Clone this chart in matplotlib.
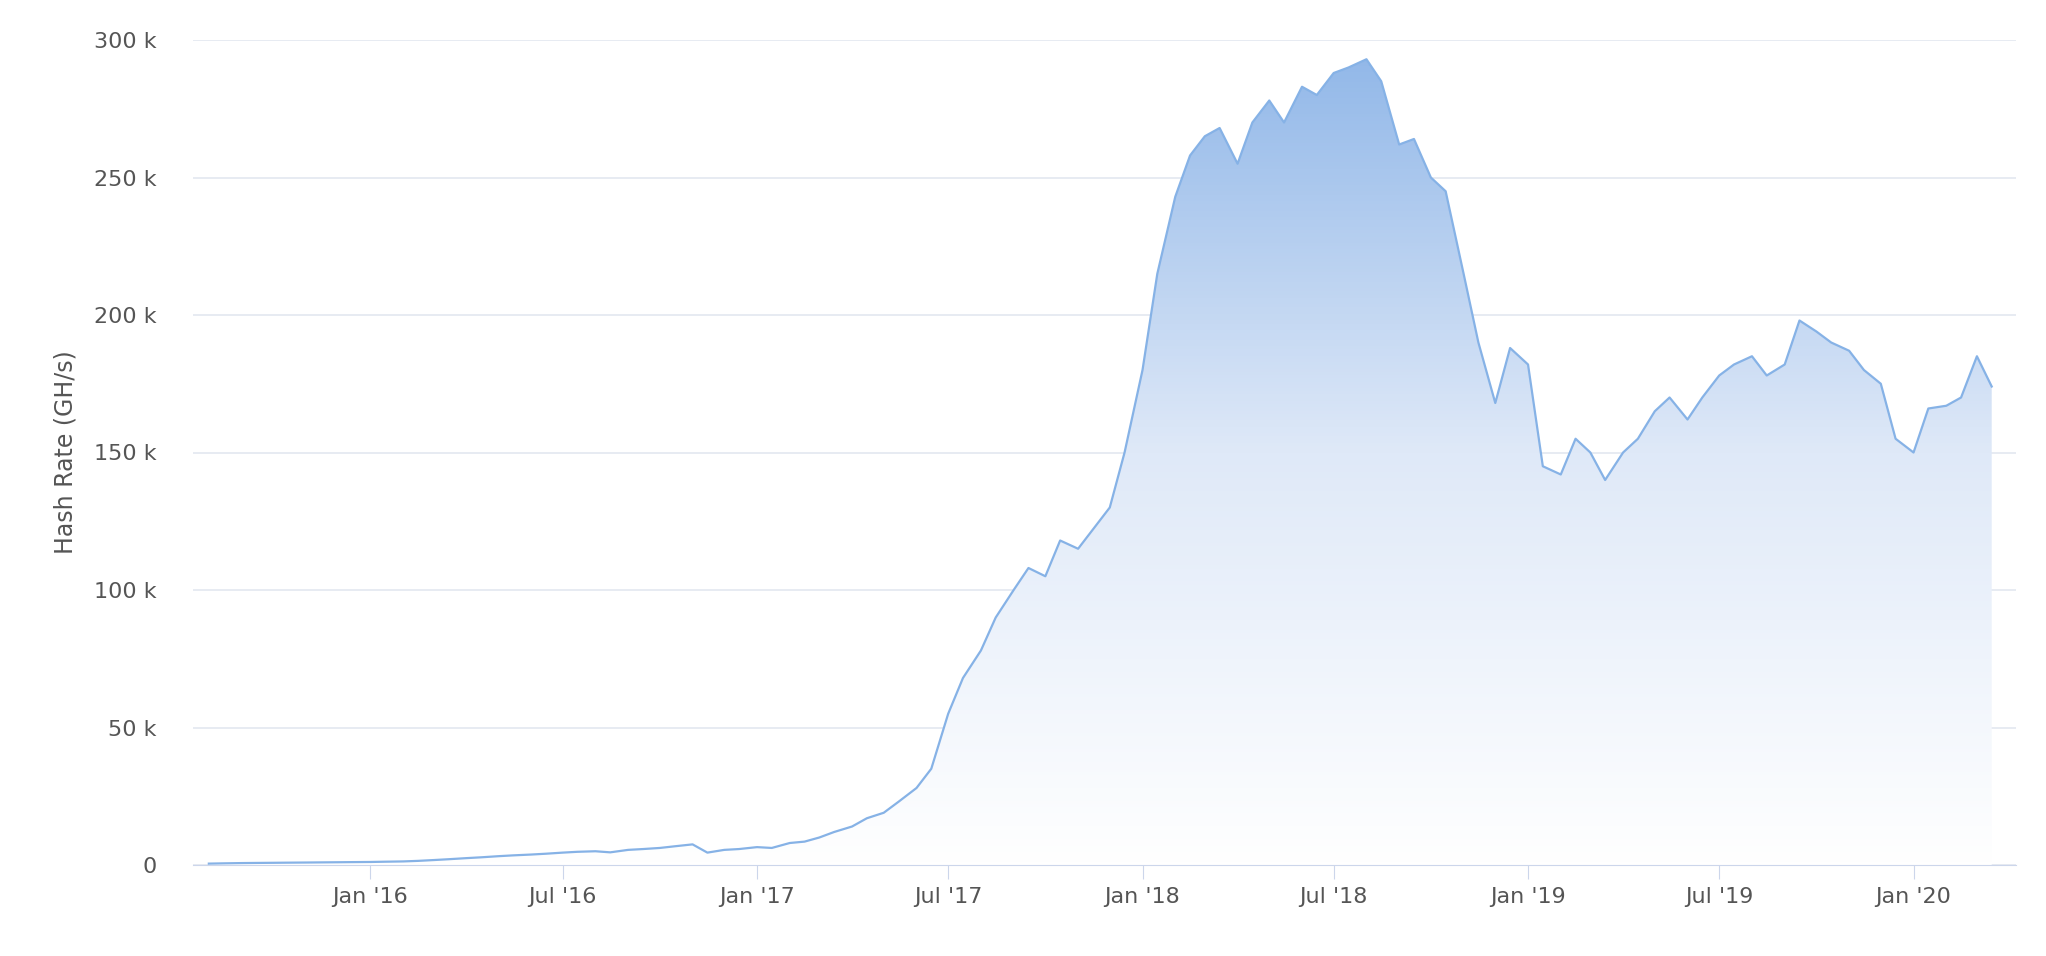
import matplotlib
matplotlib.use("Agg")
import matplotlib.pyplot as plt
import matplotlib.dates as mdates
import numpy as np
import pandas as pd
from matplotlib.patches import Polygon
from matplotlib.colors import LinearSegmentedColormap

dates = pd.date_range("2015-08-01", "2020-03-16", freq="SMS")
values_k = [0.5,0.6, 0.7,0.75, 0.8,0.85, 0.9,0.95, 1.0,1.05,
            1.1,1.2, 1.3,1.5, 1.8,2.1, 2.5,2.8, 3.2,3.5, 3.8,4.1, 4.5,4.8,
            5.0,4.6, 5.5,5.8, 6.2,6.8, 7.5,4.5, 5.5,5.8,
            6.5,6.2, 8.0,8.5, 10,12, 14,17, 19,23, 28,35, 55,68, 78,90, 100,108,
            105,118, 115,122, 130,150,
            180,215, 243,258, 265,268, 255,270, 278,270, 283,280, 288,290,
            293,285, 262,264, 250,245, 215,190, 168,188,
            182,145, 142,155, 150,140, 150,155, 165,170, 162,170, 178,182,
            185,178, 182,198, 194,190, 187,180, 175,155,
            150,166, 167,170, 185,174]
n = min(len(dates), len(values_k))
dates = dates[:n]
values = np.array(values_k[:n]) * 1000

fig = plt.figure(figsize=(20.46, 9.56), dpi=100)
ax = fig.add_axes([193/2046, 1-865/956, (2016-193)/2046, (865-40)/956])
ax.set_xlim(pd.Timestamp("2015-07-17"), pd.Timestamp("2020-04-07"))
ax.set_ylim(0, 300000)

x = mdates.date2num(dates)
grad = np.linspace(0, 1, 256).reshape(-1, 1)
cmap = LinearSegmentedColormap.from_list("g", ["#ffffff", "#dfe9f8", "#8fb6e8"])
im = ax.imshow(grad, extent=[x[0], x[-1], 0, 300000], origin="lower",
               aspect="auto", cmap=cmap, zorder=1)
poly = Polygon(np.column_stack([np.r_[x[0], x, x[-1]], np.r_[0, values, 0]]),
               closed=True, transform=ax.transData, facecolor="none", edgecolor="none")
ax.add_patch(poly)
im.set_clip_path(poly)
ax.plot(x, values, color="#86b2e6", lw=1.6, zorder=3)

ax.set_yticks([0, 50000, 100000, 150000, 200000, 250000, 300000])
ax.set_yticklabels(["0", "50 k", "100 k", "150 k", "200 k", "250 k", "300 k"])
ticks = [pd.Timestamp(s) for s in ["2016-01-01","2016-07-01","2017-01-01","2017-07-01",
         "2018-01-01","2018-07-01","2019-01-01","2019-07-01","2020-01-01"]]
ax.set_xticks(mdates.date2num(ticks))
ax.set_xticklabels(["Jan '16","Jul '16","Jan '17","Jul '17","Jan '18","Jul '18",
                    "Jan '19","Jul '19","Jan '20"])
ax.grid(axis="y", color="#e3e8f0", lw=1.2, zorder=0)
ax.set_axisbelow(True)
for s in ["top", "right", "left"]:
    ax.spines[s].set_visible(False)
ax.spines["bottom"].set_color("#ccd6eb")
ax.tick_params(axis="y", length=0, labelsize=16, colors="#555", pad=26)
ax.tick_params(axis="x", length=10, color="#ccd6eb", labelsize=16, colors="#555", pad=6)
ax.set_ylabel("Hash Rate (GH/s)", fontsize=17, color="#555", labelpad=12)
fig.savefig("out.png", dpi=100, facecolor="white")
